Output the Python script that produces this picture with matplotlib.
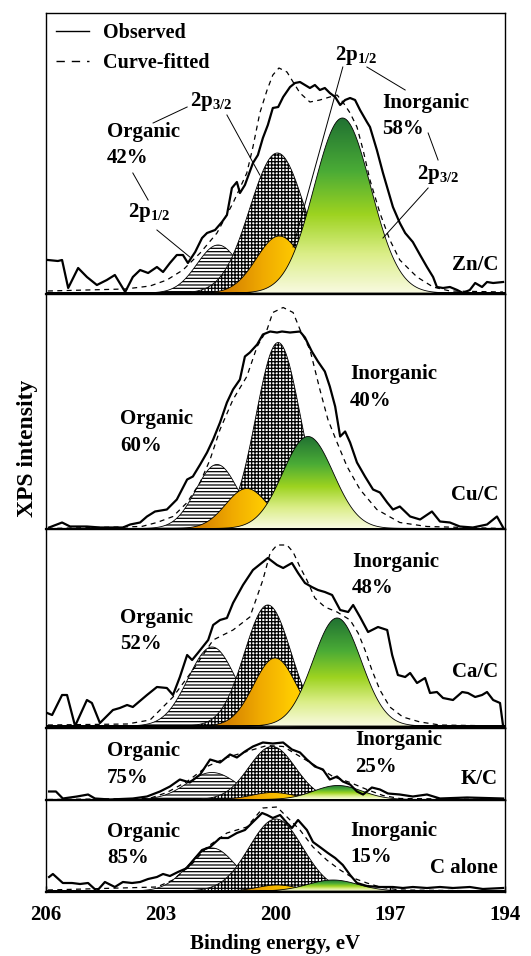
import numpy as np
import matplotlib
matplotlib.use("Agg")
import matplotlib.pyplot as plt
from matplotlib.colors import LinearSegmentedColormap
from matplotlib.patches import Polygon
from matplotlib.lines import Line2D

plt.rcParams["font.family"] = ["Liberation Serif", "DejaVu Serif"]
plt.rcParams["font.weight"] = "bold"
plt.rcParams["mathtext.fontset"] = "custom"
plt.rcParams["mathtext.rm"] = "Liberation Serif:bold"
plt.rcParams["mathtext.it"] = "Liberation Serif:bold"
plt.rcParams["mathtext.bf"] = "Liberation Serif:bold"
plt.rcParams["hatch.linewidth"] = 0.9

# ---- data (binding energy in eV, intensity in arbitrary units) ----
panel_names = ["Zn/C", "Cu/C", "Ca/C", "K/C", "C alone"]
organic_pct = [42, 60, 52, 75, 85]
inorganic_pct = [58, 40, 48, 25, 15]
x_ticks = [206, 203, 200, 197, 194]

zn_obs_ev = [205.95, 205.69, 205.58, 205.42, 205.16, 204.93, 204.67, 204.41, 204.20, 203.93, 203.73, 203.54,
             203.33, 203.10, 202.94, 202.76, 202.58, 202.42, 202.29, 202.10, 201.92, 201.79, 201.58, 201.40,
             201.27, 201.14, 201.01, 200.93, 200.80, 200.59, 200.46, 200.33, 200.20, 200.07, 199.93, 199.80,
             199.62, 199.49, 199.36, 199.23, 199.10, 198.97, 198.84, 198.71, 198.58, 198.44, 198.31, 198.18,
             198.05, 197.92, 197.79, 197.61, 197.53, 197.35, 197.19, 197.06, 196.93, 196.75, 196.61, 196.41,
             196.22, 196.04, 195.88, 195.78, 195.62, 195.44, 195.25, 195.10, 194.92, 194.78, 194.60, 194.47,
             194.31, 194.05]
zn_obs_int = [33, 32, 33, 5, 25, 16, 8, 13, 18, 1, 16, 23, 20, 26, 21, 30, 38, 38, 30, 41, 55, 60, 63, 71,
              78, 105, 111, 100, 108, 130, 138, 155, 168, 185, 186, 196, 206, 210, 211, 208, 205, 208, 203, 205,
              200, 196, 188, 193, 195, 193, 183, 171, 166, 143, 120, 103, 86, 70, 60, 51, 38, 26, 16, 6, 5, 6,
              3, 0, 3, 10, 6, 11, 10, 11]
zn_fit_ev = [205.95, 203.93, 203.28, 202.84, 202.42, 201.97, 201.53, 201.11, 200.75, 200.59, 200.41, 200.22,
             200.07, 199.91, 199.70, 199.54, 199.36, 199.10, 198.84, 198.58, 198.39, 198.24, 198.05, 197.87,
             197.71, 197.53, 197.27, 197.01, 196.75, 196.30, 195.88, 195.44, 194.05]
zn_fit_int = [2, 4, 7, 13, 23, 40, 60, 90, 120, 146, 180, 203, 218, 225, 221, 211, 200, 191, 193, 196, 198,
              191, 180, 166, 143, 113, 80, 53, 33, 16, 6, 2, 1]
# peak order: organic 2p1/2, organic 2p3/2, inorganic 2p1/2, inorganic 2p3/2
zn_center = [201.50, 199.95, 199.90, 198.25]
zn_height = [48, 140, 57, 175]
zn_sigma = [0.55, 0.72, 0.60, 0.74]

cu_obs_ev = [205.92, 205.58, 205.37, 204.93, 204.59, 203.99, 203.80, 203.54, 203.36, 203.15, 202.84, 202.58,
             202.31, 202.16, 201.97, 201.79, 201.63, 201.45, 201.27, 201.11, 200.93, 200.80, 200.67, 200.48,
             200.33, 200.14, 199.96, 199.83, 199.62, 199.36, 199.23, 199.05, 198.89, 198.71, 198.58, 198.44,
             198.31, 198.18, 198.05, 197.87, 197.66, 197.45, 197.27, 197.08, 196.93, 196.75, 196.48, 196.22,
             195.91, 195.70, 195.44, 195.18, 194.84, 194.47, 194.21, 194.05]
cu_obs_int = [1, 6, 2, 2, 1, 1, 4, 6, 12, 17, 19, 29, 49, 52, 64, 76, 89, 106, 126, 139, 149, 172, 176, 184,
              194, 197, 196, 197, 196, 197, 191, 177, 167, 157, 142, 122, 92, 97, 86, 66, 52, 39, 36, 26, 19,
              22, 12, 9, 17, 7, 6, 2, 1, 4, 12, 1]
cu_fit_ev = [205.95, 203.50, 203.10, 202.68, 202.31, 201.97, 201.71, 201.45, 201.11, 200.75, 200.48, 200.22,
             200.07, 199.80, 199.54, 199.36, 199.10, 198.84, 198.63, 198.39, 198.13, 197.79, 197.35, 196.75,
             196.04, 194.05]
cu_fit_int = [0, 2, 6, 12, 26, 46, 69, 99, 129, 152, 182, 199, 216, 221, 216, 199, 179, 139, 109, 86, 62, 39,
              19, 6, 2, 0]
cu_center = [201.53, 199.93, 200.75, 199.15]
cu_height = [64, 186, 40, 92]
cu_sigma = [0.55, 0.58, 0.55, 0.66]

ca_obs_ev = [205.97, 205.84, 205.58, 205.45, 205.24, 204.93, 204.80, 204.59, 204.25, 204.07, 203.88, 203.73,
             203.36, 203.10, 202.84, 202.68, 202.50, 202.31, 202.18, 202.03, 201.76, 201.63, 201.45, 201.27,
             201.11, 200.85, 200.59, 200.33, 200.20, 199.96, 199.80, 199.57, 199.41, 199.23, 199.05, 198.89,
             198.71, 198.52, 198.31, 198.10, 197.97, 197.79, 197.58, 197.32, 197.08, 196.95, 196.80, 196.61,
             196.48, 196.30, 196.09, 195.96, 195.78, 195.62, 195.36, 195.12, 194.97, 194.78, 194.60, 194.47,
             194.31, 194.13, 194.05]
ca_obs_int = [13, 11, 31, 31, 0, 26, 23, 3, 16, 18, 21, 19, 31, 39, 38, 31, 49, 71, 66, 73, 86, 101, 106, 108,
              123, 141, 156, 164, 168, 161, 158, 163, 153, 143, 139, 136, 134, 131, 116, 114, 121, 109, 94, 99,
              96, 71, 51, 49, 53, 43, 48, 33, 34, 28, 26, 34, 33, 29, 31, 34, 26, 23, 0]
ca_fit_ev = [205.95, 203.88, 203.28, 202.68, 202.16, 201.63, 201.11, 200.67, 200.33, 200.14, 199.96, 199.70,
             199.54, 199.36, 199.18, 198.97, 198.71, 198.39, 198.05, 197.84, 197.66, 197.48, 197.27, 197.01,
             196.67, 196.22, 195.70, 194.05]
ca_fit_int = [1, 2, 6, 29, 56, 86, 96, 109, 146, 173, 181, 181, 174, 159, 146, 128, 119, 114, 106, 93, 76, 56,
              36, 19, 9, 4, 1, 0]
ca_center = [201.66, 200.20, 200.01, 198.39]
ca_height = [79, 121, 68, 108]
ca_sigma = [0.62, 0.61, 0.56, 0.63]

k_obs_ev = [205.92, 205.74, 205.56, 205.19, 204.90, 204.72, 204.33, 203.73, 203.36, 203.02, 202.76, 202.50,
            202.24, 201.97, 201.71, 201.45, 201.19, 201.01, 200.80, 200.59, 200.33, 200.07, 199.80, 199.57,
            199.36, 199.18, 198.97, 198.76, 198.58, 198.39, 198.24, 198.05, 197.87, 197.71, 197.48, 197.27,
            197.06, 196.75, 196.41, 196.04, 195.70, 194.99, 194.05]
k_obs_int = [8, 8, 1, 3, 5, 1, 0, 1, 3, 8, 13, 20, 17, 25, 40, 37, 45, 42, 48, 53, 57, 56, 57, 50, 47, 40, 33,
             30, 20, 23, 18, 15, 8, 5, 12, 10, 6, 5, 3, 5, 1, 2, 1]
k_fit_ev = [205.95, 203.30, 202.84, 202.31, 201.79, 201.27, 200.75, 200.22, 199.80, 199.36, 198.92, 198.50,
            198.05, 197.61, 197.19, 196.75, 194.05]
k_fit_int = [0, 1, 7, 18, 33, 42, 48, 54, 53, 43, 33, 23, 17, 10, 4, 1, 0]
k_center = [201.66, 200.09, 200.07, 198.37]
k_height = [27, 53, 7, 14]
k_sigma = [0.65, 0.61, 0.55, 0.63]

c_obs_ev = [205.92, 205.82, 205.56, 205.32, 205.11, 204.90, 204.67, 204.46, 204.20, 203.99, 203.75, 203.54,
            203.33, 203.10, 202.94, 202.76, 202.55, 202.31, 202.10, 201.92, 201.71, 201.45, 201.24, 201.01,
            200.80, 200.59, 200.35, 200.22, 200.07, 199.88, 199.70, 199.57, 199.41, 199.18, 199.02, 198.84,
            198.63, 198.44, 198.24, 198.05, 197.87, 197.61, 197.27, 196.93, 196.67, 196.41, 196.04, 195.70,
            195.36, 194.92, 194.58, 194.05]
c_obs_int = [14, 17, 8, 8, 7, 8, 0, 9, 4, 9, 8, 9, 12, 14, 17, 15, 19, 23, 33, 41, 44, 53, 53, 58, 61, 69, 78,
             76, 73, 76, 68, 63, 71, 61, 49, 44, 38, 33, 26, 16, 8, 5, 4, 4, 3, 4, 3, 4, 3, 4, 2, 3]
c_fit_ev = [205.95, 203.10, 202.68, 202.16, 201.79, 201.27, 200.75, 200.33, 199.96, 199.62, 199.36, 199.02,
            198.66, 198.31, 197.97, 197.61, 197.27, 196.75, 194.05]
c_fit_int = [1, 4, 11, 28, 44, 58, 64, 83, 84, 71, 61, 44, 31, 21, 13, 8, 4, 1, 0]
c_center = [201.66, 199.99, 199.96, 198.50]
c_height = [43, 72, 6, 11]
c_sigma = [0.62, 0.70, 0.50, 0.65]

green_cmap = LinearSegmentedColormap.from_list(
    "grn", [(0, "#f8fadf"), (0.22, "#dbee88"), (0.45, "#9dd320"), (0.7, "#4aab36"), (1, "#217232")])
orange_cmap = LinearSegmentedColormap.from_list("org", ["#d68300", "#f0aa00", "#ffcc00"])


def gauss(x, c, h, s):
    return h * np.exp(-(x - c) ** 2 / (2 * s ** 2))


def gradient_fill(ax, x, y, img, cmap, z):
    verts = np.column_stack([np.r_[x, x[::-1]], np.r_[y, np.zeros_like(y)]])
    patch = Polygon(verts, closed=True, facecolor="none", edgecolor="black", lw=0.6, zorder=z + 0.1)
    ax.add_patch(patch)
    im = ax.imshow(img, cmap=cmap, vmin=0, vmax=1, aspect="auto", origin="lower",
                   extent=[x[0], x[-1], 0, y.max()], zorder=z, interpolation="bilinear")
    im.set_clip_path(patch)


def draw_panel(ax, obs_ev, obs_int, fit_ev, fit_int, centers, heights, sigmas):
    x = np.linspace(206, 194, 800)
    curves = [gauss(x, c, h, s) for c, h, s in zip(centers, heights, sigmas)]
    ax.fill_between(x, 0, curves[0], facecolor="white", edgecolor="black", hatch="-----", lw=0.6, zorder=2)
    ax.fill_between(x, 0, curves[1], facecolor="white", edgecolor="black", hatch="+++++", lw=0.6, zorder=3)
    c, s = centers[2], sigmas[2]
    t = np.clip((c + 2.2 * s - x) / (3.0 * s), 0, 1)
    gradient_fill(ax, x, curves[2], t.reshape(1, -1), orange_cmap, 4)
    gradient_fill(ax, x, curves[3], np.linspace(0, 1, 200).reshape(-1, 1), green_cmap, 5)
    ax.plot(fit_ev, fit_int, color="black", lw=0.9, ls=(0, (4, 3.5)), zorder=6)
    ax.plot(obs_ev, obs_int, color="black", lw=1.6, zorder=7)


fig = plt.figure(figsize=(5.31, 9.56), dpi=100)
W, H = 531, 956
panel_px = [(13, 294), (294, 529), (529, 728), (728, 800), (800, 892)]
ylims = [(-1, 280), (-0.5, 234.5), (-2, 197), (-0.5, 71.5), (-1, 91)]
panel_data = [
    (zn_obs_ev, zn_obs_int, zn_fit_ev, zn_fit_int, zn_center, zn_height, zn_sigma),
    (cu_obs_ev, cu_obs_int, cu_fit_ev, cu_fit_int, cu_center, cu_height, cu_sigma),
    (ca_obs_ev, ca_obs_int, ca_fit_ev, ca_fit_int, ca_center, ca_height, ca_sigma),
    (k_obs_ev, k_obs_int, k_fit_ev, k_fit_int, k_center, k_height, k_sigma),
    (c_obs_ev, c_obs_int, c_fit_ev, c_fit_int, c_center, c_height, c_sigma),
]
# label anchors: (organic x, y), (inorganic x, y), sample-name y
label_pos = [
    ((204.41, 148), (197.22, 177), 28),
    ((204.07, 96), (198.05, 141), 34),
    ((204.07, 95), (198.00, 151), 54),
    ((204.41, 35), (197.92, 46), 20),
    ((204.41, 46), (198.05, 47), 23),
]

axes = []
for i, (top, bot) in enumerate(panel_px):
    ax = fig.add_axes([46 / W, 1 - bot / H, (505 - 46) / W, (bot - top) / H])
    draw_panel(ax, *panel_data[i])
    ax.set_xlim(206, 194)
    ax.set_ylim(*ylims[i])
    ax.tick_params(left=False, labelleft=False, bottom=False, labelbottom=False)
    for sp in ax.spines.values():
        sp.set_linewidth(1.0)
    ax.spines["bottom"].set_linewidth(1.6)
    (ox, oy), (ix, iy), ny = label_pos[i]
    ax.text(ox, oy, "Organic\n%d%%" % organic_pct[i], fontsize=15, ha="left", va="center",
            linespacing=1.45, zorder=9)
    ax.text(ix, iy, "Inorganic\n%d%%" % inorganic_pct[i], fontsize=15, ha="left", va="center",
            linespacing=1.45, zorder=9)
    ax.text(194.18, ny, panel_names[i], fontsize=15, ha="right", va="center", zorder=9)
    axes.append(ax)

# subshell labels and leader lines in the Zn/C panel
zn = axes[0]
zn.text(202.24, 192, r"2p$_{3/2}$", fontsize=15, ha="left", va="center", zorder=9)
zn.text(203.86, 80, r"2p$_{1/2}$", fontsize=15, ha="left", va="center", zorder=9)
zn.text(198.44, 238, r"2p$_{1/2}$", fontsize=15, ha="left", va="center", zorder=9)
zn.text(196.30, 118, r"2p$_{3/2}$", fontsize=15, ha="left", va="center", zorder=9)
leaders = [((202.31, 186), (203.20, 170)), ((201.27, 178), (200.41, 118)),
           ((203.73, 120), (203.33, 93)), ((203.10, 63), (202.24, 36)),
           ((198.24, 226), (199.54, 46)), ((197.61, 226), (196.61, 203)),
           ((196.01, 160), (195.75, 133)), ((196.01, 105), (197.19, 55))]
for (x0, y0), (x1, y1) in leaders:
    zn.plot([x0, x1], [y0, y1], color="black", lw=0.7, zorder=8)

handles = [Line2D([], [], color="black", lw=1.0),
           Line2D([], [], color="black", lw=1.0, ls=(0, (6, 5)))]
zn.legend(handles, ["Observed", "Curve-fitted"], loc="upper left", bbox_to_anchor=(0, 1),
          frameon=False, fontsize=14.5, borderaxespad=0, borderpad=0.5, labelspacing=0.5,
          handlelength=1.65, handletextpad=0.7)

bottom_ax = axes[-1]
bottom_ax.tick_params(bottom=True, labelbottom=True, direction="in", length=4, width=1,
                      labelsize=15, pad=9)
bottom_ax.set_xticks(x_ticks)
bottom_ax.set_xticklabels([str(t) for t in x_ticks])

fig.text(28 / W, 1 - 448 / H, "XPS intensity", rotation=90, fontsize=17, ha="center", va="center")
fig.text(275.5 / W, 1 - 944 / H, "Binding energy, eV", fontsize=15, ha="center", va="center")

plt.savefig("out.png", dpi=100)
